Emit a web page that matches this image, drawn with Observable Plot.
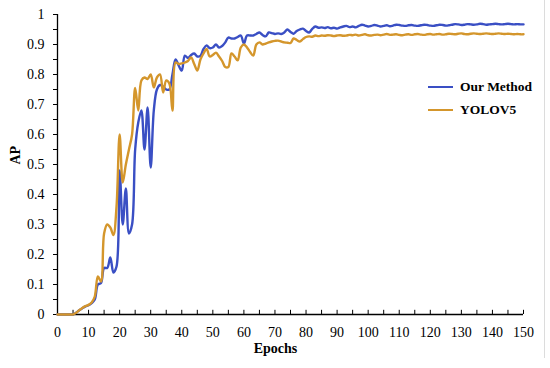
<!DOCTYPE html>
<html>
<head>
<meta charset="utf-8">
<script src="https://cdn.jsdelivr.net/npm/d3@7"></script>
<script src="https://cdn.jsdelivr.net/npm/@observablehq/plot@0.6"></script>
<style>
  html, body { margin: 0; padding: 0; background: #fff; }
  #wrap { position: relative; width: 550px; height: 368px; overflow: hidden; }
  #wrap, #wrap svg, #wrap svg text { font-family: "Liberation Serif", "Times New Roman", serif !important; }
  .legend { position: absolute; left: 428px; top: 75px; font-weight: bold; font-size: 13.5px; color: #000; }
  .row { display: flex; align-items: center; height: 23px; }
  .sw { width: 25px; height: 0; border-top: 2.4px solid; margin-right: 7px; }
  #edge { position: absolute; left: 544px; top: 0; width: 1px; height: 358px; background: #dcdcdc; }
</style>
</head>
<body>
<div id="wrap"></div>
<script>
const seriesNames = ["Our Method", "YOLOV5"];
const seriesColors = ["#3a4fc4", "#d4962c"];
const epochs = d3.range(0, 151);

const ourMethod = [
  0,0,0,0,0,0,0.006,0.014,0.021,0.027,
  0.031,0.038,0.05,0.1,0.105,0.155,0.155,0.19,0.14,0.16,
  0.48,0.3,0.42,0.27,0.3,0.55,0.64,0.68,0.55,0.69,
  0.49,0.68,0.75,0.765,0.76,0.75,0.75,0.8,0.85,0.83,
  0.813,0.863,0.855,0.865,0.87,0.86,0.862,0.885,0.897,0.888,
  0.89,0.9,0.89,0.895,0.907,0.923,0.92,0.92,0.925,0.93,
  0.903,0.93,0.93,0.93,0.935,0.94,0.932,0.927,0.94,0.938,
  0.935,0.937,0.935,0.94,0.95,0.942,0.936,0.945,0.95,0.953,
  0.945,0.94,0.952,0.96,0.956,0.957,0.955,0.958,0.954,0.956,
  0.953,0.957,0.96,0.962,0.958,0.96,0.957,0.962,0.966,0.963,
  0.96,0.962,0.965,0.963,0.96,0.962,0.964,0.961,0.963,0.966,
  0.965,0.963,0.962,0.964,0.965,0.963,0.962,0.964,0.966,0.965,
  0.963,0.962,0.964,0.966,0.965,0.963,0.964,0.966,0.968,0.967,
  0.965,0.966,0.968,0.967,0.966,0.967,0.969,0.968,0.966,0.967,
  0.968,0.969,0.968,0.967,0.968,0.969,0.968,0.967,0.968,0.967,
  0.967
];

const yolov5 = [
  0,0,0,0,0,0,0.006,0.014,0.022,0.028,
  0.032,0.04,0.06,0.127,0.11,0.27,0.3,0.29,0.265,0.36,
  0.6,0.44,0.5,0.55,0.6,0.755,0.68,0.78,0.79,0.785,
  0.8,0.757,0.79,0.8,0.74,0.78,0.77,0.68,0.84,0.835,
  0.837,0.84,0.845,0.857,0.835,0.813,0.85,0.87,0.885,0.86,
  0.865,0.873,0.86,0.845,0.825,0.825,0.87,0.86,0.847,0.89,
  0.9,0.89,0.875,0.863,0.9,0.907,0.9,0.903,0.907,0.91,
  0.912,0.913,0.91,0.907,0.906,0.905,0.92,0.915,0.91,0.918,
  0.925,0.927,0.926,0.93,0.928,0.93,0.929,0.931,0.93,0.928,
  0.93,0.931,0.929,0.93,0.932,0.931,0.933,0.93,0.932,0.934,
  0.931,0.93,0.932,0.933,0.931,0.933,0.935,0.932,0.933,0.934,
  0.932,0.931,0.933,0.934,0.932,0.934,0.935,0.933,0.932,0.934,
  0.935,0.933,0.934,0.935,0.933,0.934,0.936,0.935,0.934,0.936,
  0.937,0.935,0.934,0.936,0.937,0.936,0.935,0.936,0.937,0.936,
  0.935,0.936,0.937,0.936,0.935,0.936,0.935,0.934,0.935,0.934,
  0.934
];

const yMajor = [0,0.1,0.2,0.3,0.4,0.5,0.6,0.7,0.8,0.9,1];
const yLabels = ["0","0.1","0.2","0.3","0.4","0.5","0.6","0.7","0.8","0.9","1"];
const yMinor = [0,0.05,0.1,0.15,0.2,0.25,0.3,0.35,0.4,0.45,0.5,0.55,0.6,0.65,0.7,0.75,0.8,0.85,0.9,0.95,1];
const xMajor = [0,10,20,30,40,50,60,70,80,90,100,110,120,130,140,150];
const xMinor = [0,5,10,15,20,25,30,35,40,45,50,55,60,65,70,75,80,85,90,95,100,105,110,115,120,125,130,135,140,145,150];
const xTitle = "Epochs";
const yTitle = "AP";

const rows = [];
seriesNames.forEach((name, s) => {
  const vals = s === 0 ? ourMethod : yolov5;
  vals.forEach((v, i) => rows.push({ epoch: epochs[i], ap: v, series: name }));
});

const chart = Plot.plot({
  width: 550,
  height: 368,
  marginLeft: 57,
  marginRight: 27,
  marginTop: 14,
  marginBottom: 54,
  style: { fontFamily: "'Liberation Serif', 'Times New Roman', serif", fontSize: "14px", background: "#fff", color: "#000", overflow: "visible" },
  x: { domain: [0, 150] },
  y: { domain: [0, 1] },
  color: { domain: seriesNames, range: seriesColors },
  marks: [
    Plot.axisY({ ticks: yMinor, tickSize: 4, tickFormat: () => "", label: null, strokeWidth: 1 }),
    Plot.axisY({ ticks: yMajor, tickSize: 0, tickPadding: 13, tickFormat: d => yLabels[Math.round(d * 10)], label: null, fontSize: 14 }),
    Plot.axisX({ ticks: xMajor, tickSize: 0, tickPadding: 13, tickFormat: d => String(d), label: null, fontSize: 14 }),
    Plot.ruleX(xMinor, { y1: 0, y2: 0.014, stroke: "#000", strokeWidth: 1 }),
    Plot.ruleY([0], { stroke: "#000", strokeWidth: 1.3 }),
    Plot.ruleX([0], { stroke: "#000", strokeWidth: 1.3 }),
    Plot.line(rows, { x: "epoch", y: "ap", z: "series", stroke: "series", curve: "catmull-rom", strokeWidth: 2.4 }),
    Plot.text([yTitle], { frameAnchor: "left", dx: -42, rotate: -90, fontWeight: "bold", fontSize: 14 }),
    Plot.text([xTitle], { frameAnchor: "bottom", dx: -15, dy: 34, lineAnchor: "middle", fontWeight: "bold", fontSize: 14 })
  ]
});

const wrap = document.getElementById("wrap");
wrap.appendChild(chart);

const legend = document.createElement("div");
legend.className = "legend";
seriesNames.forEach((name, i) => {
  const row = document.createElement("div");
  row.className = "row";
  const sw = document.createElement("span");
  sw.className = "sw";
  sw.style.borderTopColor = seriesColors[i];
  const label = document.createElement("span");
  label.textContent = name;
  row.appendChild(sw);
  row.appendChild(label);
  legend.appendChild(row);
});
wrap.appendChild(legend);

const edge = document.createElement("div");
edge.id = "edge";
wrap.appendChild(edge);
</script>
</body>
</html>
